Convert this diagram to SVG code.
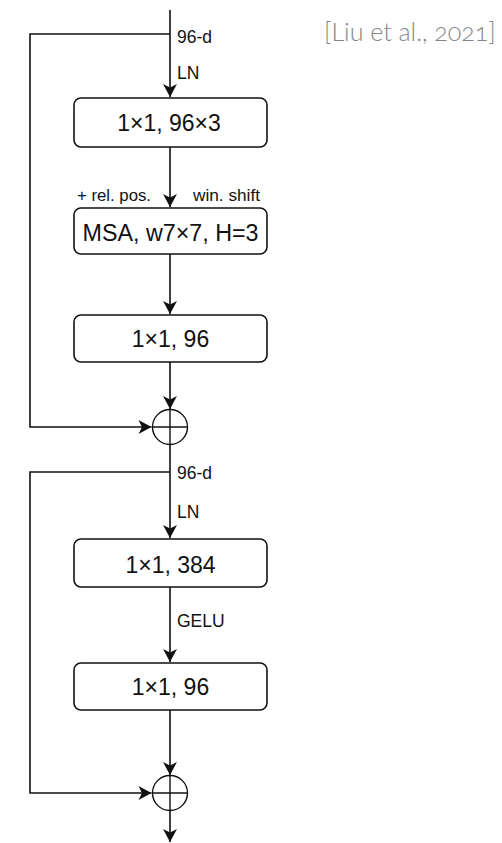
<svg xmlns="http://www.w3.org/2000/svg" width="502" height="843" viewBox="0 0 502 843">
  <defs>
    <marker id="arrow" markerUnits="userSpaceOnUse" markerWidth="18" markerHeight="18" viewBox="-15 -9 18 18" refX="0" refY="0" orient="auto">
      <path d="M0,0 L-13,-7 L-9.5,0 L-13,7 Z" fill="#111"/>
    </marker>
    <style>
      .line { fill: none; stroke: #111; stroke-width: 1.6; }
      .box { fill: #fff; stroke: #111; stroke-width: 1.6; }
      .sum { fill: #fff; stroke: #111; stroke-width: 1.4; }
      .cross { stroke: #111; stroke-width: 1.4; }
      .big { font-family: "Liberation Sans", Arial, sans-serif; font-size: 23px; fill: #111; text-anchor: middle; }
      .lbl { font-family: "Liberation Sans", Arial, sans-serif; font-size: 17.5px; fill: #111; }
      .small { font-family: "Liberation Sans", Arial, sans-serif; font-size: 16px; fill: #111; }
      .cite { font-family: Lato, "Open Sans", sans-serif; font-weight: 300; font-size: 25px; fill: #858585; font-variant-numeric: oldstyle-nums; }
    </style>
  </defs>

  <text class="cite" x="324" y="41">[Liu et al., 2021]</text>

  <g id="connectors">
    <!-- attention block: input, skip path and stacked layers -->
    <line class="line" x1="170" y1="10" x2="170" y2="97" marker-end="url(#arrow)"/>
    <polyline class="line" points="170,34 30,34 30,427 151.5,427" marker-end="url(#arrow)"/>
    <line class="line" x1="170" y1="147" x2="170" y2="207" marker-end="url(#arrow)"/>
    <line class="line" x1="170" y1="254" x2="170" y2="314" marker-end="url(#arrow)"/>
    <line class="line" x1="170" y1="362" x2="170" y2="409" marker-end="url(#arrow)"/>
    <!-- MLP block -->
    <line class="line" x1="170" y1="444.5" x2="170" y2="538" marker-end="url(#arrow)"/>
    <polyline class="line" points="170,472 30,472 30,793 151.5,793" marker-end="url(#arrow)"/>
    <line class="line" x1="170" y1="587" x2="170" y2="662" marker-end="url(#arrow)"/>
    <line class="line" x1="170" y1="710" x2="170" y2="775" marker-end="url(#arrow)"/>
    <line class="line" x1="170" y1="810.5" x2="170" y2="842" marker-end="url(#arrow)"/>

    <text class="lbl" x="177" y="43">96-d</text>
    <text class="lbl" x="177" y="79">LN</text>
    <text class="small" x="77" y="201" textLength="74" lengthAdjust="spacingAndGlyphs">+ rel. pos.</text>
    <text class="small" x="193" y="201" textLength="67" lengthAdjust="spacingAndGlyphs">win. shift</text>
    <text class="lbl" x="177" y="479">96-d</text>
    <text class="lbl" x="177" y="518">LN</text>
    <text class="lbl" x="177" y="627">GELU</text>
  </g>

  <g id="qkv">
    <rect class="box" x="74" y="98" width="193" height="49" rx="7"/>
    <text class="big" x="169" y="131">1×1, 96×3</text>
  </g>
  <g id="msa">
    <rect class="box" x="74" y="208" width="193" height="46" rx="7"/>
    <text class="big" x="170.5" y="241" textLength="176" lengthAdjust="spacingAndGlyphs">MSA, w7×7, H=3</text>
  </g>
  <g id="proj">
    <rect class="box" x="74" y="315" width="193" height="47" rx="7"/>
    <text class="big" x="170.5" y="347">1×1, 96</text>
  </g>
  <g id="add1">
    <circle class="sum" cx="170" cy="427" r="17.5"/>
    <line class="cross" x1="152.5" y1="427" x2="187.5" y2="427"/>
    <line class="cross" x1="170" y1="409.5" x2="170" y2="444.5"/>
  </g>
  <g id="fc1">
    <rect class="box" x="74" y="539" width="193" height="48" rx="7"/>
    <text class="big" x="170.5" y="573">1×1, 384</text>
  </g>
  <g id="fc2">
    <rect class="box" x="74" y="663" width="193" height="47" rx="7"/>
    <text class="big" x="170.5" y="695">1×1, 96</text>
  </g>
  <g id="add2">
    <circle class="sum" cx="170" cy="793" r="17.5"/>
    <line class="cross" x1="152.5" y1="793" x2="187.5" y2="793"/>
    <line class="cross" x1="170" y1="775.5" x2="170" y2="810.5"/>
  </g>
</svg>
